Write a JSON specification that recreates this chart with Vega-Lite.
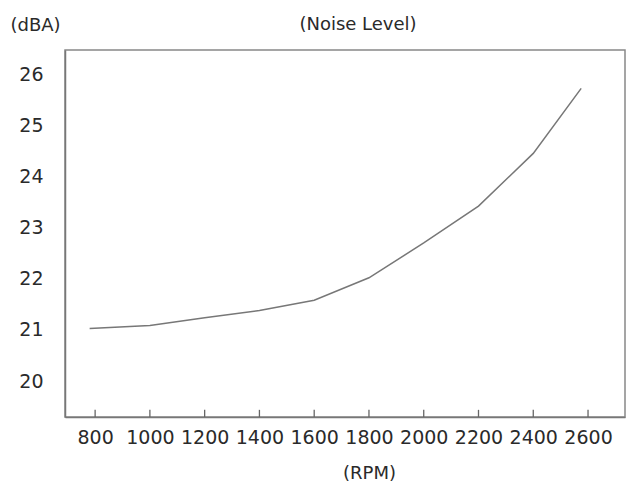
{
  "$schema": "https://vega.github.io/schema/vega-lite/v6.json",
  "autosize": "none",
  "padding": {"left": 65, "top": 50, "right": 1, "bottom": 68},
  "width": 560,
  "height": 367,
  "title": {
    "text": "(Noise Level)",
    "anchor": "middle",
    "dx": 13,
    "dy": 27,
    "offset": 0,
    "baseline": "middle",
    "fontSize": 18,
    "fontWeight": "normal",
    "font": "DejaVu Sans",
    "color": "#2a2a2a"
  },
  "datasets": {
    "noise": [
      {"rpm": 780, "dba": 21.03},
      {"rpm": 1000, "dba": 21.09},
      {"rpm": 1200, "dba": 21.24},
      {"rpm": 1400, "dba": 21.38},
      {"rpm": 1600, "dba": 21.58},
      {"rpm": 1800, "dba": 22.02},
      {"rpm": 2000, "dba": 22.7},
      {"rpm": 2200, "dba": 23.42},
      {"rpm": 2400, "dba": 24.45},
      {"rpm": 2575, "dba": 25.72}
    ],
    "ticks": [
      {"rpm": 800}, {"rpm": 1000}, {"rpm": 1200}, {"rpm": 1400}, {"rpm": 1600},
      {"rpm": 1800}, {"rpm": 2000}, {"rpm": 2200}, {"rpm": 2400}, {"rpm": 2600}
    ]
  },
  "layer": [
    {
      "data": {"name": "noise"},
      "mark": {"type": "line", "color": "#777777", "strokeWidth": 1.5},
      "encoding": {
        "x": {
          "field": "rpm",
          "type": "quantitative",
          "scale": {"domain": [690, 2735], "nice": false, "zero": false},
          "axis": {
            "values": [800, 1000, 1200, 1400, 1600, 1800, 2000, 2200, 2400, 2600],
            "format": "d",
            "title": "(RPM)",
            "titleX": 304,
            "titleY": 56,
            "titleBaseline": "middle",
            "titleAnchor": null,
            "titleAlign": "center",
            "grid": false,
            "ticks": false,
            "labelPadding": 11,
            "labelOverlap": false,
            "labelFlush": false
          }
        },
        "y": {
          "field": "dba",
          "type": "quantitative",
          "scale": {"domain": [19.3, 26.47], "nice": false, "zero": false},
          "axis": {
            "values": [20, 21, 22, 23, 24, 25, 26],
            "title": "(dBA)",
            "titleAngle": 0,
            "titleX": -55,
            "titleY": -25,
            "titleAlign": "left",
            "titleBaseline": "middle",
            "titleAnchor": null,
            "grid": false,
            "ticks": false,
            "labelPadding": 22,
            "labelOverlap": false,
            "labelFlush": false
          }
        }
      }
    },
    {
      "data": {"name": "ticks"},
      "mark": {"type": "rule", "color": "#666666", "strokeWidth": 1.3},
      "encoding": {
        "x": {"field": "rpm", "type": "quantitative"},
        "y": {"datum": 19.3},
        "y2": {"datum": 19.44}
      }
    }
  ],
  "config": {
    "font": "DejaVu Sans",
    "view": {"stroke": "#888888", "strokeWidth": 1.5},
    "axis": {
      "domainColor": "#777777",
      "domainWidth": 1.5,
      "labelFont": "DejaVu Sans",
      "labelFontSize": 19,
      "labelColor": "#2a2a2a",
      "titleFont": "DejaVu Sans",
      "titleFontSize": 18,
      "titleFontWeight": "normal",
      "titleColor": "#2a2a2a"
    }
  }
}
